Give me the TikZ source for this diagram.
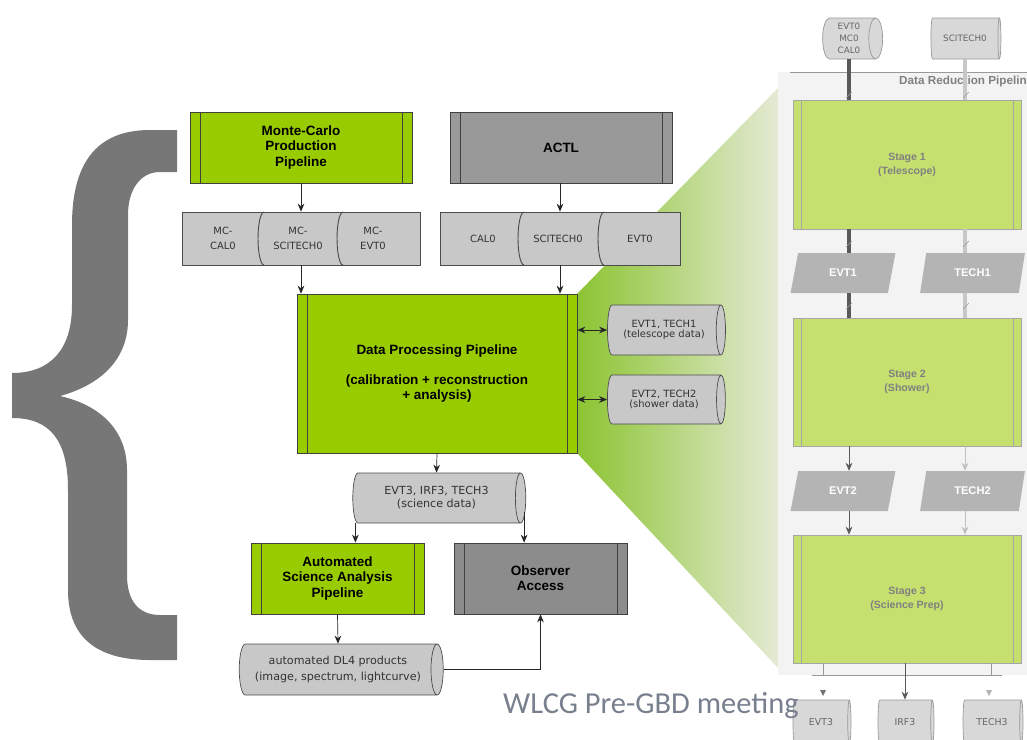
\documentclass[tikz,border=0pt]{standalone}
\usepackage{fontspec}
\setmainfont{Liberation Sans}
\newfontfamily\cylfont{DejaVu Sans}
\newfontfamily\slidefont{Carlito}
\usepackage{tikz}
\usetikzlibrary{arrows.meta,positioning,shapes.geometric}

\definecolor{procgreen}{RGB}{153,204,0}
\definecolor{stagegreen}{RGB}{198,224,112}
\definecolor{actlgray}{RGB}{153,153,153}
\definecolor{obsgray}{RGB}{140,140,140}
\definecolor{cylgray}{RGB}{200,200,200}
\definecolor{paleCyl}{RGB}{216,216,216}
\definecolor{bracegray}{RGB}{119,119,119}
\definecolor{panelgray}{RGB}{243,243,243}
\definecolor{wedgegreen}{RGB}{140,196,50}
\definecolor{fadegreen}{RGB}{228,234,212}
\definecolor{pargray}{RGB}{180,180,180}
\definecolor{slidetext}{RGB}{120,128,142}

\def\pxu{0.3mm}

\tikzset{
    boxsize/.style 2 args={minimum width=#1*\pxu, minimum height=#2*\pxu},
    cylsize/.style 2 args={minimum height=#1*\pxu, minimum width=#2*\pxu},
    procbox/.style 2 args={rectangle, draw=#2, line width=0.6pt, inner sep=0pt,
        align=center, font=\bfseries\fontsize{11.5}{13}\selectfont,
        path picture={\draw[#2, line width=0.6pt]
            ([xshift=#1]path picture bounding box.north west) -- ([xshift=#1]path picture bounding box.south west)
            ([xshift=-#1]path picture bounding box.north east) -- ([xshift=-#1]path picture bounding box.south east);}},
    greenbox/.style={procbox={3mm}{black!75}, fill=procgreen},
    graybox/.style={procbox={3mm}{black!75}, fill=actlgray},
    stagebox/.style={procbox={2.4mm}{black!35}, fill=stagegreen, text=black!50,
        font=\bfseries\fontsize{9}{12}\selectfont, boxsize={228}{128}},
    datacyl/.style={cylinder, shape aspect=0.46, draw=black!70, fill=cylgray,
        line width=0.6pt, inner sep=0pt, align=center, text=black!80,
        font=\cylfont\fontsize{8.5}{9}\selectfont},
    palecyl/.style={datacyl, draw=black!40, fill=paleCyl, text=black!60,
        font=\cylfont\fontsize{7.5}{10}\selectfont},
    cyltext/.style={inner sep=0pt, align=center, text=black!80,
        font=\cylfont\fontsize{8.5}{12.5}\selectfont},
    flowpar/.style={trapezium, trapezium left angle=73, trapezium right angle=107,
        trapezium stretches=true, fill=pargray, inner sep=0pt, text=white,
        font=\bfseries\fontsize{9.5}{11}\selectfont, boxsize={105}{40}},
    flow/.style={-{Stealth[length=2.4mm, width=2mm]}, black!85, line width=0.6pt},
    dflow/.style={{Stealth[length=2.4mm, width=2mm]}-{Stealth[length=2.4mm, width=2mm]}, black!85, line width=0.6pt},
    thickdark/.style={line width=3.4pt, black!65},
    thicklight/.style={line width=3.4pt, black!22}
}

\begin{document}
\begin{tikzpicture}[x=0.3mm, y=-0.3mm]
    \useasboundingbox (0,0) rectangle (1027,739);

    % Big brace
    \fill[bracegray] (177,130) -- (150,130) .. controls (95,130) and (72,165) .. (72,225)
        -- (72,305) .. controls (72,350) and (50,373) .. (12,373) -- (12,418)
        .. controls (50,418) and (68,440) .. (68,490) -- (68,590)
        .. controls (68,640) and (100,660) .. (150,660) -- (177,660) -- (177,615)
        -- (160,615) .. controls (138,615) and (127,600) .. (127,575) -- (127,470)
        .. controls (127,430) and (100,405) .. (60,396)
        .. controls (100,385) and (128,360) .. (128,320) -- (128,215)
        .. controls (128,190) and (140,172) .. (160,172) -- (177,172) -- cycle;

    % Zoom wedge and reduction panel
    \shade[left color=wedgegreen, right color=fadegreen]
        (577,294) -- (778,88) -- (778,668) -- (577,453) -- cycle;
    \fill[panelgray] (778,72) rectangle (1027,675);
    \draw[black!40, line width=0.8pt] (790,72) -- (1027,72);
    \begin{scope}
        \clip (778,72) rectangle (1027,739);
        \node[anchor=west, inner sep=0pt, text=black!50, font=\bfseries\fontsize{10}{12}\selectfont]
            (drptitle) at (899,81) {Data Reduction Pipeline};
    \end{scope}

    % Main pipeline
    \node[greenbox, boxsize={222}{71}] (mcprod) at (301,147.5) {Monte-Carlo\\Production\\Pipeline};
    \node[graybox, boxsize={222}{71}] (actl) at (561,147.5) {ACTL};

    \node[datacyl, cylsize={238}{53}] (mccyl) at (301,238.5) {};
    \node[datacyl, cylsize={240}{53}] (actlcyl) at (560,238.5) {};
    \foreach \sx in {258,337,518,598}
        \draw[black!70, line width=0.8pt] (\sx+6,265) arc[start angle=90, end angle=270, x radius=6, y radius=26.5];
    \node[cyltext] (mccal) at (223,238.5) {MC-\\CAL0};
    \node[cyltext] (mcsci) at (298,238.5) {MC-\\SCITECH0};
    \node[cyltext] (mcevt) at (373,238.5) {MC-\\EVT0};
    \node[cyltext] (cal) at (483,238.5) {CAL0};
    \node[cyltext] (scitech) at (558,238.5) {SCITECH0};
    \node[cyltext] (evt) at (640,238.5) {EVT0};

    \node[greenbox, boxsize={280}{159}] (dpp) at (437,373.5)
        {Data Processing Pipeline\\[12pt](calibration + reconstruction\\+ analysis)};
    \node[datacyl, cylsize={118}{50}] (telcyl) at (664,330) {EVT1, TECH1\\(telescope data)};
    \node[datacyl, cylsize={118}{49}] (showcyl) at (664,399.5) {EVT2, TECH2\\(shower data)};

    \node[datacyl, cylsize={173}{50}, font=\cylfont\fontsize{9.5}{11}\selectfont]
        (scicyl) at (436.5,498) {EVT3, IRF3, TECH3\\(science data)};
    \node[greenbox, boxsize={173}{71}] (asap) at (337.5,578.5) {Automated\\Science Analysis\\Pipeline};
    \node[procbox={3mm}{black!75}, fill=obsgray, boxsize={173}{71}] (obs) at (540.5,578.5) {Observer\\Access};
    \node[datacyl, cylsize={204}{51}, font=\cylfont\fontsize{9.5}{13.5}\selectfont]
        (dl4cyl) at (338,669.5) {automated DL4 products\\(image, spectrum, lightcurve)};

    % Main connectors
    \draw[flow] (mcprod.south) -- (mccyl.north);
    \draw[flow] (actlcyl.north |- actl.south) -- (actlcyl.north);
    \draw[flow] (mccyl.south) -- (mccyl.south |- dpp.north);
    \draw[flow] (actlcyl.south) -- (actlcyl.south |- dpp.north);
    \draw[dflow] (telcyl.west -| dpp.east) -- (telcyl.west);
    \draw[dflow] (showcyl.west -| dpp.east) -- (showcyl.west);
    \draw[flow] (dpp.south) -- (scicyl.north);
    \coordinate (scileft) at ([shift={(3,25)}]scicyl.west);
    \coordinate (sciright) at ([shift={(-2,14)}]scicyl.east);
    \draw[flow] (scileft) -- (scileft |- asap.north);
    \draw[flow] (sciright) -- (sciright |- obs.north);
    \draw[flow] (asap.south) -- (dl4cyl.north);
    \draw[flow] (dl4cyl.east) -| (obs.south);

    % Reduction stages
    \node[palecyl, cylsize={60}{41}] (evt0) at (849,38.5) {EVT0\\MC0\\CAL0};
    \node[palecyl, cylsize={70}{41}] (scitech0) at (965,38.5) {SCITECH0};
    \node[stagebox, boxsize={228}{129}] (stage1) at (907,164.5) {Stage 1\\(Telescope)};
    \node[flowpar] (evt1) at (843,273) {EVT1};
    \node[flowpar] (tech1) at (972.5,273) {TECH1};
    \node[stagebox] (stage2) at (907,382) {Stage 2\\(Shower)};
    \node[flowpar] (evt2) at (843,491) {EVT2};
    \node[flowpar] (tech2) at (972.5,491) {TECH2};
    \node[stagebox] (stage3) at (907,599) {Stage 3\\(Science Prep)};
    \node[palecyl, cylsize={58}{44}, font=\cylfont\fontsize{8}{10}\selectfont] (evt3) at (821,722) {EVT3};
    \node[palecyl, cylsize={56}{44}, font=\cylfont\fontsize{8}{10}\selectfont] (irf3) at (905,722) {IRF3};
    \node[palecyl, cylsize={60}{44}, font=\cylfont\fontsize{8}{10}\selectfont] (tech3) at (992,722) {TECH3};

    % Stage connectors
    \draw[thickdark] (evt0.south) -- (evt0.south |- stage1.north);
    \draw[thicklight] (scitech0.south) -- (scitech0.south |- stage1.north);
    \draw[thickdark] (evt0.south |- stage1.south) -- (evt0.south |- evt1.north);
    \draw[thicklight] (scitech0.south |- stage1.south) -- (scitech0.south |- tech1.north);
    \draw[thickdark] (evt0.south |- evt1.south) -- (evt0.south |- stage2.north);
    \draw[thicklight] (scitech0.south |- tech1.south) -- (scitech0.south |- stage2.north);
    \foreach \ty in {95,244,306} {
        \draw[black!40, line width=0.5pt] (846,\ty+3) -- (852,\ty-3);
        \draw[black!40, line width=0.5pt] (963,\ty+3) -- (969,\ty-3);
    }
    \draw[flow, black!65] (evt0.south |- stage2.south) -- (evt0.south |- evt2.north);
    \draw[flow, black!25] (scitech0.south |- stage2.south) -- (scitech0.south |- tech2.north);
    \draw[flow, black!65] (evt0.south |- evt2.south) -- (evt0.south |- stage3.north);
    \draw[flow, black!25] (scitech0.south |- tech2.south) -- (scitech0.south |- stage3.north);
    \draw[black!40, line width=0.6pt] (823,663) -- (823,675) (991,663) -- (991,675) (812,675) -- (1002,675);
    \draw[flow, black!65] (irf3.north |- stage3.south) -- (irf3.north);
    \fill[black!55] (820,690) -- (826,690) -- (823,696) -- cycle;
    \fill[black!30] (986,690) -- (992,690) -- (989,696) -- cycle;

    % Slide footer
    \node[anchor=base west, inner sep=0pt, text=slidetext, font=\slidefont\fontsize{26}{30}\selectfont]
        (footer) at (503,713) {WLCG Pre-GBD meeting};
\end{tikzpicture}
\end{document}
